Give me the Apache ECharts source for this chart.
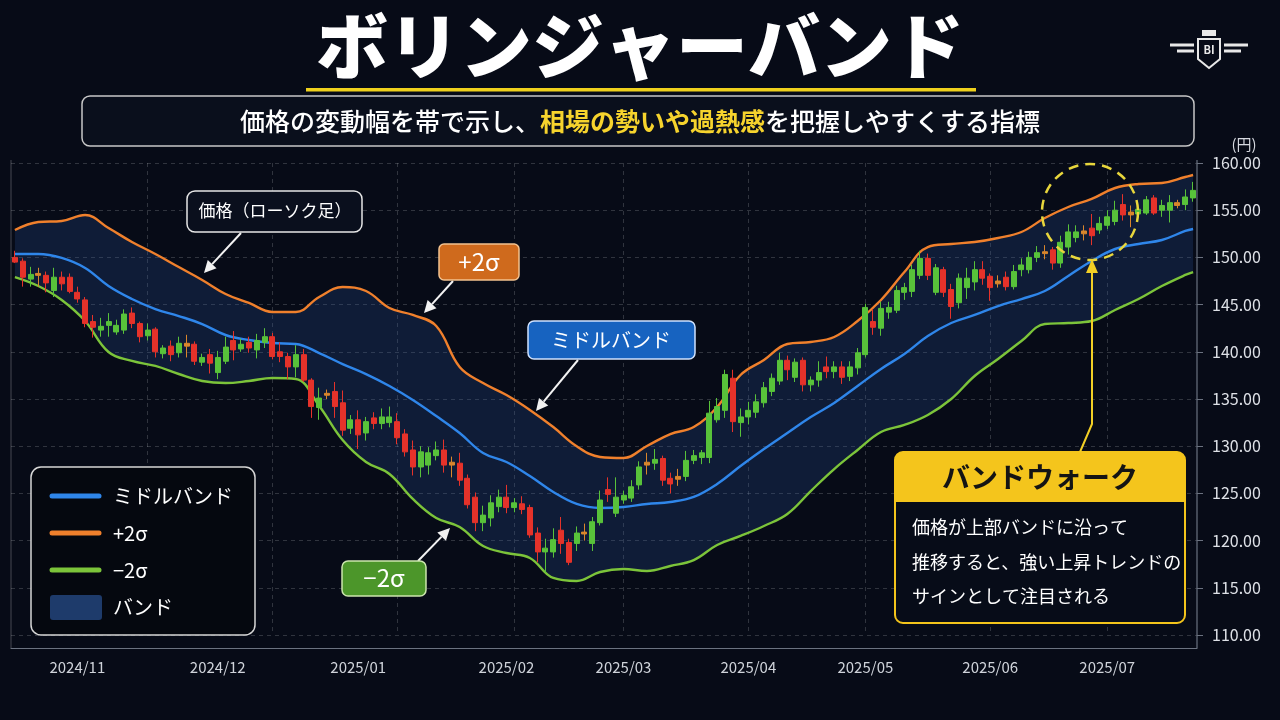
<!DOCTYPE html>
<html lang="ja">
<head>
<meta charset="utf-8">
<title>ボリンジャーバンド</title>
<script src="https://cdn.jsdelivr.net/npm/echarts@6/dist/echarts.min.js"></script>
<style>
  html, body { margin: 0; padding: 0; background: #070b17; }
  #chart { width: 1280px; height: 720px; }
</style>
</head>
<body>
<div id="chart"></div>
<script>
// ローソク足 [始値, 終値, 安値, 高値]
const ohlc = [
  [150.0,149.5,149.4,150.7],[149.6,147.9,146.9,149.9],[147.7,148.2,146.9,149.0],[148.1,148.3,146.9,148.9],
  [148.1,147.3,146.3,148.5],[146.5,147.9,145.8,148.9],[147.9,147.2,146.5,148.5],[147.9,146.4,146.2,148.3],
  [146.3,145.6,145.2,146.9],[145.5,143.0,142.6,145.8],[143.2,142.6,141.5,143.9],[142.3,142.7,141.6,143.6],
  [142.8,143.2,141.6,144.1],[142.1,142.8,141.8,143.4],[142.3,144.0,141.9,144.5],[144.1,143.0,142.5,144.7],
  [143.0,141.6,141.0,143.2],[141.7,142.3,141.2,143.0],[142.4,140.0,139.4,142.6],[139.8,140.4,139.3,140.7],
  [140.6,139.7,139.0,141.2],[139.9,140.9,139.4,141.6],[140.9,140.6,139.4,141.8],[140.8,139.0,138.6,141.1],
  [138.9,139.4,138.5,139.8],[139.7,138.8,137.7,140.3],[137.8,139.4,137.1,140.1],[139.0,140.5,138.7,141.6],
  [141.2,140.2,139.1,142.2],[140.3,140.8,140.0,141.4],[141.0,140.4,139.9,141.6],[140.2,141.2,139.3,141.9],
  [141.0,141.6,140.4,142.5],[141.6,139.5,139.2,142.0],[140.0,139.5,138.9,141.0],[139.5,138.4,137.1,139.9],
  [138.4,139.7,137.3,140.7],[139.7,137.0,136.8,140.3],[137.0,134.2,133.0,137.2],[134.1,135.1,132.8,136.2],
  [135.6,135.4,135.0,136.0],[135.8,134.2,133.0,136.8],[134.6,131.7,131.1,135.9],[131.9,132.8,131.3,133.3],
  [132.8,131.2,129.7,133.8],[131.4,132.6,130.6,133.1],[133.0,132.4,131.8,133.6],[132.4,133.1,131.8,134.0],
  [132.5,133.1,132.0,134.2],[132.6,130.9,130.2,133.5],[131.3,129.4,128.9,131.8],[129.6,127.8,126.9,130.6],
  [127.8,129.4,126.7,130.0],[128.0,129.3,127.0,129.9],[129.0,129.6,128.5,130.5],[129.6,128.0,127.2,130.7],
  [128.3,128.0,126.7,128.9],[128.2,126.4,125.8,129.3],[126.6,123.8,123.4,127.0],[124.6,121.9,121.0,125.1],
  [121.9,122.7,121.0,123.7],[122.4,124.0,121.5,124.8],[123.6,124.6,123.0,125.4],[124.6,123.5,122.9,125.9],
  [123.5,124.0,123.0,124.5],[123.9,123.3,122.8,124.7],[123.5,120.6,120.3,123.8],[120.8,118.8,117.7,121.4],
  [118.8,119.2,116.6,120.2],[118.8,120.1,118.2,121.3],[121.1,119.7,118.6,122.5],[119.8,117.7,117.4,120.2],
  [119.7,120.8,118.9,121.5],[120.7,120.9,120.0,121.8],[119.7,122.0,118.9,122.5],[121.9,124.3,121.6,125.3],
  [125.4,124.9,124.1,126.7],[122.9,124.6,122.5,126.7],[124.3,124.8,123.9,125.3],[124.5,125.7,124.1,126.4],
  [125.9,127.8,125.4,128.4],[128.0,128.3,127.0,129.3],[128.2,128.6,127.5,129.7],[128.7,126.4,125.8,129.0],
  [126.6,126.0,125.0,127.2],[126.8,126.5,125.8,127.6],[126.8,128.5,126.3,129.5],[128.5,129.0,128.1,129.6],
  [128.8,129.3,128.1,129.6],[128.8,133.5,128.2,134.8],[132.8,134.2,132.5,135.1],[133.8,137.6,133.0,138.1],
  [137.2,132.6,131.5,138.1],[132.5,133.1,131.0,134.0],[133.1,133.8,132.3,134.7],[133.6,134.7,133.0,135.5],
  [134.6,136.2,134.1,136.8],[135.8,137.2,135.3,137.7],[136.9,139.1,136.5,139.9],[139.1,138.1,137.0,139.6],
  [137.3,138.9,136.8,139.3],[139.1,136.5,135.8,139.4],[136.5,137.0,135.8,137.4],[137.0,137.8,136.3,139.0],
  [138.4,137.9,137.2,139.5],[137.9,138.4,137.2,139.0],[138.4,137.3,136.6,139.0],[137.4,138.4,136.9,139.0],
  [138.3,139.9,137.6,140.4],[139.7,144.7,139.4,145.1],[143.2,142.6,141.8,144.5],[142.5,144.6,141.7,145.3],
  [144.2,144.7,143.5,145.3],[144.4,146.5,144.1,147.0],[146.3,146.8,145.5,147.3],[146.4,148.7,145.8,149.2],
  [148.1,149.9,147.7,150.7],[149.9,148.1,147.6,150.4],[146.3,148.9,146.0,149.3],[148.7,146.3,145.8,149.0],
  [146.6,144.8,143.5,147.2],[145.2,147.8,144.6,148.3],[146.8,147.8,145.6,148.9],[147.4,148.7,146.5,149.6],
  [148.7,147.8,147.1,149.6],[148.0,146.8,145.4,148.3],[147.5,147.2,146.8,148.1],[147.9,146.9,146.5,148.5],
  [146.9,148.5,146.6,149.2],[148.7,149.2,148.0,149.9],[148.7,150.0,148.3,150.6],[150.0,150.5,149.5,151.2],
  [150.6,150.4,149.8,151.3],[150.8,149.4,148.7,151.1],[149.4,151.6,148.9,152.3],[151.1,152.7,150.3,153.5],
  [152.1,152.7,151.6,153.4],[152.8,152.5,151.8,153.4],[153.1,152.3,151.3,154.6],[152.9,153.6,152.5,154.3],
  [153.4,154.3,153.0,155.0],[153.8,155.0,153.4,156.0],[155.6,154.5,153.9,156.7],[154.8,154.5,153.2,155.5],
  [154.6,155.1,154.4,155.3],[154.7,156.1,154.5,156.5],[156.3,154.7,154.5,156.6],[155.0,155.5,154.3,156.1],
  [155.0,155.8,153.7,156.6],[155.8,155.5,155.2,156.1],[155.6,156.4,155.0,157.2],[156.3,157.1,155.9,158.0]
];

// バンドの読み取り位置(ローソク足の番号)と値
const bandDays = [0,3,6,9,12,15,18,21,24,27,30,33,36,39,42,45,48,51,54,57,60,63,66,69,72,75,
  78,81,84,87,90,93,96,99,102,105,108,111,114,117,120,123,126,129,132,135,138,141,144,147,150,151];
const upperBand = [152.90,153.75,153.86,154.49,153.11,151.63,150.36,148.98,147.61,146.12,145.17,144.22,144.22,
  145.81,146.86,146.44,144.64,143.90,142.73,138.39,136.69,135.42,133.84,132.03,130.00,128.86,
  128.75,130.02,131.29,132.03,134.15,137.54,139.13,140.83,141.04,141.57,143.26,145.49,148.45,
  151.10,151.42,151.63,152.06,152.69,154.17,155.34,156.19,157.35,157.78,157.88,158.52,158.73];
const middleBand = [150.36,150.36,149.94,148.88,146.97,145.59,144.53,143.79,142.94,141.78,141.25,140.93,140.83,
  139.87,138.70,137.64,136.38,134.90,133.20,131.40,129.28,128.33,126.84,125.15,123.88,123.45,
  123.56,123.88,124.09,124.62,126.00,127.90,129.70,131.40,133.09,134.58,136.38,138.18,139.77,
  141.67,143.05,143.90,144.85,145.59,146.44,148.03,149.62,150.89,151.42,151.84,152.80,153.01];
const lowerBand = [147.92,146.97,145.49,143.26,139.98,139.03,138.50,137.65,136.91,136.69,136.91,137.22,137.12,
  134.26,130.66,128.33,127.06,124.41,122.39,121.44,119.43,118.69,118.16,116.04,115.72,116.67,
  116.99,116.78,117.31,117.94,119.53,120.49,121.55,122.82,125.25,127.58,129.60,131.50,132.25,
  133.31,135.00,137.44,139.24,141.14,142.94,143.05,143.26,144.43,145.59,146.97,148.14,148.45];

// 月の目盛り
const monthLabels = {8: '2024/11', 26: '2024/12', 44: '2025/01', 63: '2025/02', 78: '2025/03',
  94: '2025/04', 109: '2025/05', 125: '2025/06', 140: '2025/07'};
const gridDays = [17, 33, 49, 64, 78, 94, 109, 125, 140];

const FONT = '"Noto Sans CJK JP", "Noto Sans", sans-serif';
const UP = '#58c23a', DOWN = '#e5322a', FLAT = '#d9862c';
const C_MID = '#2f86ea', C_UP = '#f0802c', C_LOW = '#7cc43a';

const tickDays = Object.keys(monthLabels).map(Number).concat(gridDays);

const candleItems = ohlc.map(function (d) {
  if (Math.abs(d[1] - d[0]) < 0.35) {
    return { value: d, itemStyle: { color: FLAT, color0: FLAT, borderColor: FLAT, borderColor0: FLAT } };
  }
  return d;
});
const pairs = function (arr) { return arr.map(function (v, i) { return [bandDays[i], v]; }); };
const bandWidth = upperBand.map(function (v, i) { return +(v - lowerBand[i]).toFixed(2); });

function arrow(x1, y1, x2, y2, color) {
  const a = Math.atan2(y2 - y1, x2 - x1);
  const len = 12, half = 6;
  const bx = x2 - len * Math.cos(a), by = y2 - len * Math.sin(a);
  const px = -Math.sin(a) * half, py = Math.cos(a) * half;
  return [
    { type: 'line', shape: { x1: x1, y1: y1, x2: bx, y2: by }, style: { stroke: color, lineWidth: 2 } },
    { type: 'polygon', shape: { points: [[x2, y2], [bx + px, by + py], [bx - px, by - py]] }, style: { fill: color } }
  ];
}
function txt(x, y, text, size, color, weight, align, extra) {
  const s = {
    text: text, fill: color, fontSize: size, fontFamily: FONT, fontWeight: weight || 'normal',
    align: align || 'center', verticalAlign: 'middle', textAlign: align || 'center', textVerticalAlign: 'middle'
  };
  if (extra) Object.assign(s, extra);
  return { type: 'text', x: x, y: y, style: s, z: 20 };
}
function box(x, y, w, h, r, fill, stroke, lw) {
  return { type: 'rect', shape: { x: x, y: y, width: w, height: h, r: r },
    style: { fill: fill, stroke: stroke, lineWidth: lw || 1.5 }, z: 15 };
}
function legendLine(y, color) {
  return { type: 'line', shape: { x1: 52, y1: y, x2: 99, y2: y },
    style: { stroke: color, lineWidth: 5, lineCap: 'round' }, z: 20 };
}

const graphics = [].concat(
  // タイトル
  txt(640, 46, 'ボリンジャーバンド', 72, '#ffffff', 900),
  { type: 'rect', shape: { x: 306, y: 88, width: 670, height: 3.5 }, style: { fill: '#efd11d' }, z: 20 },
  box(82, 96, 1112, 50, 8, 'rgba(12,17,32,0.7)', '#c8c8c8', 1.5),
  txt(640, 121, '価格の変動幅を帯で示し、{y|相場の勢いや過熱感}を把握しやすくする指標', 25, '#ffffff', 500, 'center',
    { rich: { y: { fill: '#f6d32d', fontSize: 25, fontWeight: 'bold', fontFamily: FONT } } }),
  // ロゴ
  { type: 'rect', shape: { x: 1202, y: 30, width: 14, height: 6 }, style: { fill: '#e8e8e8' }, z: 20 },
  { type: 'polygon', shape: { points: [[1198, 39], [1220, 39], [1220, 59], [1209, 68], [1198, 59]] },
    style: { fill: 'none', stroke: '#e8e8e8', lineWidth: 2 }, z: 20 },
  txt(1209, 50, 'BI', 11, '#e8e8e8', 'bold'),
  { type: 'polyline', shape: { points: [[1170, 45], [1194, 45]] }, style: { stroke: '#e8e8e8', lineWidth: 3 }, z: 20 },
  { type: 'polyline', shape: { points: [[1177, 51], [1194, 51]] }, style: { stroke: '#e8e8e8', lineWidth: 3 }, z: 20 },
  { type: 'polyline', shape: { points: [[1224, 45], [1248, 45]] }, style: { stroke: '#e8e8e8', lineWidth: 3 }, z: 20 },
  { type: 'polyline', shape: { points: [[1224, 51], [1241, 51]] }, style: { stroke: '#e8e8e8', lineWidth: 3 }, z: 20 },
  txt(1244, 144, '(円)', 15, '#d6d9e0'),
  // 枠
  { type: 'line', shape: { x1: 11, y1: 160, x2: 11, y2: 648 }, style: { stroke: 'rgba(255,255,255,0.25)', lineWidth: 1 }, z: 2 },
  { type: 'line', shape: { x1: 1197, y1: 160, x2: 1197, y2: 648 }, style: { stroke: '#6b7280', lineWidth: 1.2 }, z: 2 },
  // 注釈
  box(187, 191, 175, 41, 8, '#0a0f1d', '#e6e6e6'),
  txt(275, 211, '価格（ローソク足）', 17, '#ffffff'),
  arrow(241, 233, 204, 273, '#f2f2f2'),
  box(439, 244, 80, 36, 5, '#cf6a1d', '#f3c28f'),
  txt(479, 262, '+2σ', 24, '#ffffff'),
  arrow(453, 281, 424, 313, '#f2f2f2'),
  box(528, 321, 167, 38, 6, '#1763c0', '#cfe2ff'),
  txt(611, 340, 'ミドルバンド', 20, '#ffffff'),
  arrow(578, 360, 536, 411, '#f2f2f2'),
  box(342, 561, 84, 35, 6, '#4c962a', '#cbe6ad'),
  txt(384, 578, '−2σ', 24, '#ffffff'),
  arrow(418, 561, 450, 528, '#f2f2f2'),
  // 凡例
  box(31, 467, 224, 168, 10, '#05080f', '#d6d6d6', 1.5),
  legendLine(496, C_MID), txt(113, 496, 'ミドルバンド', 20, '#ffffff', 'normal', 'left'),
  legendLine(533, C_UP), txt(113, 533, '+2σ', 20, '#ffffff', 'normal', 'left'),
  legendLine(570, C_LOW), txt(113, 570, '−2σ', 20, '#ffffff', 'normal', 'left'),
  { type: 'rect', shape: { x: 50, y: 595, width: 52, height: 25, r: 3 }, style: { fill: '#1e3b6b' }, z: 20 },
  txt(113, 607, 'バンド', 20, '#ffffff', 'normal', 'left'),
  // バンドウォーク
  { type: 'circle', shape: { cx: 1090, cy: 212, r: 48 },
    style: { fill: 'none', stroke: '#e8d63c', lineWidth: 2.5, lineDash: [10, 7] }, z: 20 },
  { type: 'polyline', shape: { points: [[1080, 452], [1092, 424], [1092, 270]] },
    style: { stroke: '#f2cf25', lineWidth: 2 }, z: 20 },
  { type: 'polygon', shape: { points: [[1092, 259], [1086, 273], [1098, 273]] }, style: { fill: '#f2cf25' }, z: 20 },
  box(895, 452, 290, 171, 8, '#070c18', '#f3c41b', 2),
  { type: 'rect', shape: { x: 895, y: 452, width: 290, height: 50, r: [8, 8, 0, 0] }, style: { fill: '#f4c51c' }, z: 16 },
  txt(1040, 477, 'バンドウォーク', 28, '#141414', 'bold'),
  txt(912, 510, '価格が上部バンドに沿って\n推移すると、強い上昇トレンドの\nサインとして注目される', 18, '#ffffff', 'normal', 'left',
    { verticalAlign: 'top', textVerticalAlign: 'top', lineHeight: 34.5 })
);

const chart = echarts.init(document.getElementById('chart'));
chart.setOption({
  backgroundColor: '#070b17',
  animation: false,
  grid: { left: 11, right: 83, top: 163, bottom: 85 },
  xAxis: {
    type: 'category',
    data: ohlc.map(function (d, i) { return String(i); }),
    offset: 13,
    axisLine: { lineStyle: { color: '#6b7280', width: 1.2 } },
    axisTick: {
      alignWithLabel: true, length: 6, lineStyle: { color: '#6b7280' },
      interval: function (i) { return tickDays.indexOf(i) >= 0; }
    },
    axisLabel: {
      color: '#cfd3da', fontSize: 15, fontFamily: FONT, margin: 12,
      interval: function (i) { return monthLabels[i] !== undefined; },
      formatter: function (v, i) { return monthLabels[i] || ''; }
    },
    splitLine: {
      show: true, alignWithLabel: true,
      interval: function (i) { return gridDays.indexOf(i) >= 0; },
      lineStyle: { color: 'rgba(255,255,255,0.17)', type: [4, 4] }
    }
  },
  yAxis: {
    type: 'value', position: 'right', min: 110, max: 160, interval: 5,
    axisLine: { show: false },
    axisTick: { show: true, length: 6, lineStyle: { color: '#6b7280' } },
    axisLabel: {
      color: '#dde0e6', fontSize: 16, fontFamily: FONT, margin: 15,
      formatter: function (v) { return v.toFixed(2); }
    },
    splitLine: { lineStyle: { color: 'rgba(255,255,255,0.17)', type: [4, 4] } }
  },
  series: [
    { name: 'base', type: 'line', stack: 'band', data: pairs(lowerBand), smooth: 0.4, symbol: 'none',
      lineStyle: { opacity: 0 }, silent: true, z: 1 },
    { name: 'バンド', type: 'line', stack: 'band', data: pairs(bandWidth), smooth: 0.4, symbol: 'none',
      lineStyle: { opacity: 0 }, areaStyle: { color: 'rgba(40,82,155,0.35)' }, silent: true, z: 1 },
    { name: '+2σ', type: 'line', data: pairs(upperBand), smooth: 0.4, symbol: 'none',
      lineStyle: { color: C_UP, width: 2.4 }, z: 3 },
    { name: '−2σ', type: 'line', data: pairs(lowerBand), smooth: 0.4, symbol: 'none',
      lineStyle: { color: C_LOW, width: 2.4 }, z: 3 },
    { name: 'ミドルバンド', type: 'line', data: pairs(middleBand), smooth: 0.4, symbol: 'none',
      lineStyle: { color: C_MID, width: 2.4 }, z: 3 },
    { name: '価格', type: 'candlestick', data: candleItems, barWidth: 5.5, z: 5,
      itemStyle: { color: UP, color0: DOWN, borderColor: UP, borderColor0: DOWN, borderWidth: 1 } }
  ],
  graphic: { elements: graphics }
});
</script>
</body>
</html>
